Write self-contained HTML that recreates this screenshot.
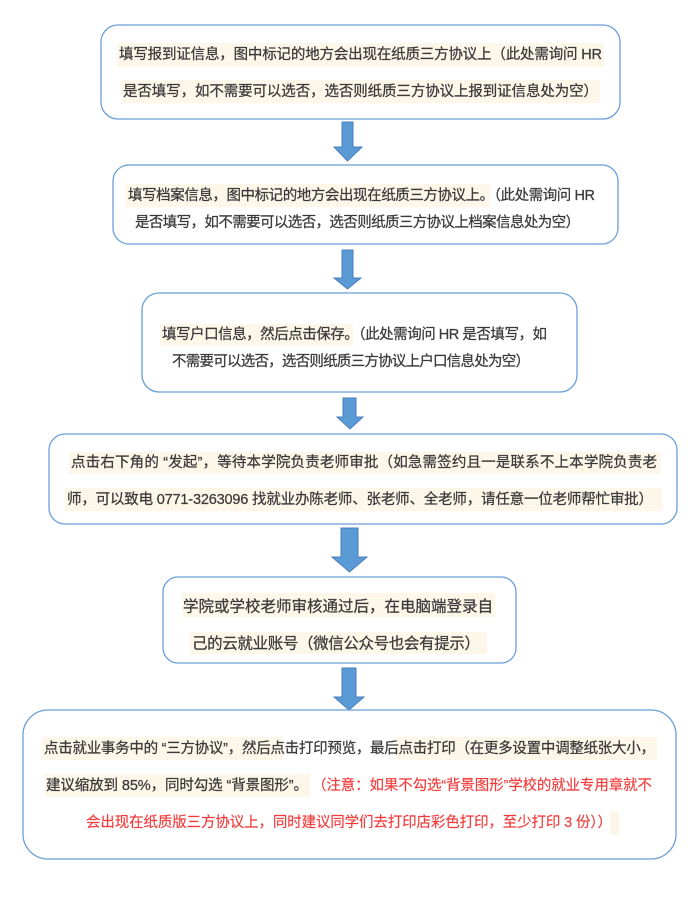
<!DOCTYPE html>
<html><head><meta charset="utf-8"><style>
html,body{margin:0;padding:0;background:#fff;}
svg{display:block;}
text{font-family:"Liberation Sans","Noto Sans CJK SC",sans-serif;font-size:14.5px;fill:#3a3a3a;stroke:#3a3a3a;stroke-width:0.25;dominant-baseline:central;}
.r{fill:#f23b3b;stroke:#f23b3b;stroke-width:0.15;}
.hl{fill:#fdf7ea;}
.box{fill:#fff;stroke:#6a9fd8;stroke-width:1.3;}
.ar{fill:#5b9bd5;stroke:#4a7ebb;stroke-width:1;}
</style></head><body>
<svg width="692" height="897" viewBox="0 0 692 897" xmlns="http://www.w3.org/2000/svg">
<!-- Box 1 -->
<rect class="box" x="101" y="25" width="519" height="94" rx="17"/>
<rect class="hl" x="117" y="43" width="487" height="24"/>
<rect class="hl" x="121" y="80" width="479" height="23"/>
<text x="119" y="55" textLength="483" lengthAdjust="spacing">填写报到证信息，图中标记的地方会出现在纸质三方协议上（此处需询问 HR</text>
<text x="123" y="92" textLength="475" lengthAdjust="spacing">是否填写，如不需要可以选否，选否则纸质三方协议上报到证信息处为空）</text>

<!-- Arrow 1 -->
<path class="ar" d="M342 122 H353 V147 H362 L347.5 161 L334 147 H342 Z"/>

<!-- Box 2 -->
<rect class="box" x="113" y="165" width="505" height="79" rx="16"/>
<rect class="hl" x="126" y="184" width="364" height="23"/>
<text x="128" y="196" textLength="467" lengthAdjust="spacing">填写档案信息，图中标记的地方会出现在纸质三方协议上。（此处需询问 HR</text>
<text x="135" y="223" textLength="445" lengthAdjust="spacing">是否填写，如不需要可以选否，选否则纸质三方协议上档案信息处为空）</text>

<!-- Arrow 2 -->
<path class="ar" d="M342 250 H353 V278 H361 L347.5 289 L334 278 H342 Z"/>

<!-- Box 3 -->
<rect class="box" x="142" y="293" width="435" height="99" rx="17"/>
<rect class="hl" x="160" y="324" width="193" height="22"/>
<text x="162" y="335" textLength="385" lengthAdjust="spacing">填写户口信息，然后点击保存。（此处需询问 HR 是否填写，如</text>
<text x="172" y="362" textLength="358" lengthAdjust="spacing">不需要可以选否，选否则纸质三方协议上户口信息处为空）</text>

<!-- Arrow 3 -->
<path class="ar" d="M343 398 H356 V417 H363 L350 429 L337 417 H343 Z"/>

<!-- Box 4 -->
<rect class="box" x="49" y="434" width="628" height="90" rx="16"/>
<rect class="hl" x="69" y="452" width="592" height="22"/>
<rect class="hl" x="65" y="488" width="597" height="23"/>
<text x="71" y="463" textLength="586" lengthAdjust="spacing">点击右下角的 “发起”，等待本学院负责老师审批（如急需签约且一是联系不上本学院负责老</text>
<text x="67" y="500" textLength="586" lengthAdjust="spacing">师，可以致电 0771-3263096 找就业办陈老师、张老师、全老师，请任意一位老师帮忙审批）</text>

<!-- Arrow 4 -->
<path class="ar" d="M341 528 H358 V557 H367 L349.5 572 L332 557 H341 Z"/>

<!-- Box 5 -->
<rect class="box" x="163" y="577" width="353" height="86" rx="15"/>
<rect class="hl" x="182" y="593" width="313" height="24"/>
<rect class="hl" x="190" y="632" width="297" height="22"/>
<text x="183" y="607" style="font-size:15.5px" textLength="310" lengthAdjust="spacing">学院或学校老师审核通过后，在电脑端登录自</text>
<text x="192" y="644" style="font-size:15.5px" textLength="288" lengthAdjust="spacing">己的云就业账号（微信公众号也会有提示）</text>

<!-- Arrow 5 -->
<path class="ar" d="M342 668 H356 V697 H364 L349 710 L334 697 H342 Z"/>

<!-- Box 6 -->
<rect class="box" x="23" y="710" width="653" height="149" rx="25"/>
<rect class="hl" x="42" y="737" width="241" height="23"/>
<rect class="hl" x="397" y="737" width="260" height="23"/>
<rect class="hl" x="45" y="774" width="265" height="23"/>
<rect class="hl" x="610" y="811" width="9" height="24"/>
<text x="44" y="749" textLength="611" lengthAdjust="spacing">点击就业事务中的 “三方协议”，然后点击打印预览，最后点击打印（在更多设置中调整纸张大小，</text>
<text x="46" y="786" textLength="262" lengthAdjust="spacing">建议缩放到 85%，同时勾选 “背景图形”。</text>
<text class="r" x="312" y="786" textLength="340" lengthAdjust="spacing">（注意：如果不勾选“背景图形”学校的就业专用章就不</text>
<text class="r" x="86" y="823" textLength="526" lengthAdjust="spacing">会出现在纸质版三方协议上，同时建议同学们去打印店彩色打印，至少打印 3 份））</text>
</svg>
</body></html>
